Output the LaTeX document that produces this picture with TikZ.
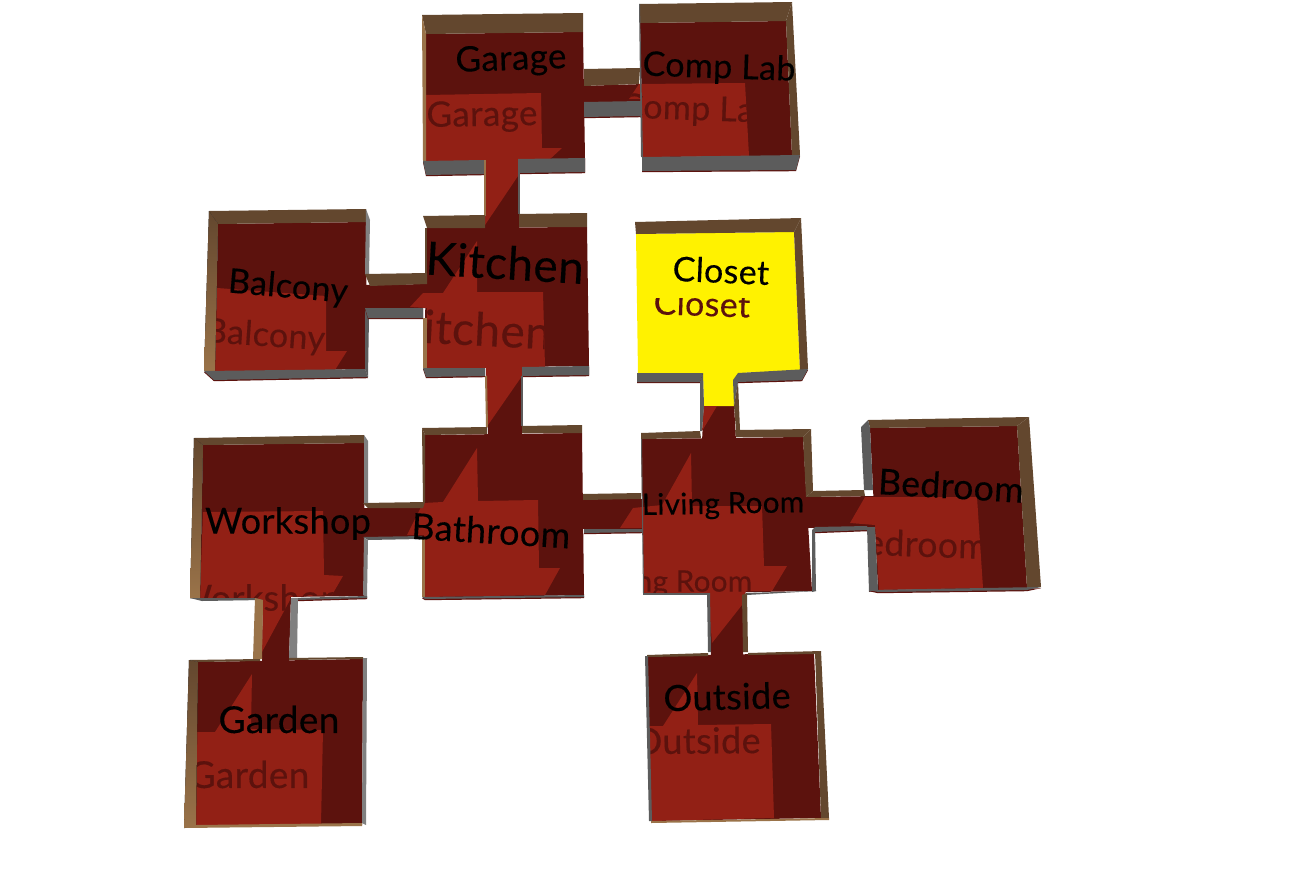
\documentclass[tikz,border=0pt]{standalone}
\usepackage{fontspec}
\setmainfont[FakeBold=0.25,LetterSpace=1]{Lato}
\usetikzlibrary{positioning}

\definecolor{floordark}{HTML}{5C120D}
\definecolor{floorlit}{HTML}{922015}
\definecolor{closetyellow}{HTML}{FFF200}
\definecolor{wallbrown}{HTML}{63472E}
\definecolor{walltan}{HTML}{9A7349}
\definecolor{wallgray}{HTML}{5C5C5C}
\definecolor{wallsteel}{HTML}{808080}

\tikzset{
	darkfloor/.style={fill=floordark},
	litfloor/.style={fill=floorlit},
	topwall/.style={fill=wallbrown},
	tanwall/.style={fill=walltan},
	fadewall/.style={top color=wallbrown, bottom color=walltan},
	botwall/.style={fill=wallgray, preaction={fill=floordark, transform canvas={yshift=-1.2pt}}},
	sidewall/.style={fill=wallsteel},
	labelsize/.style={font=\fontsize{#1}{#1}\selectfont},
	roomlabel/.style={text=black, inner sep=0pt, yshift=-1pt},
	shadowlabel/.style={text=floordark, inner sep=0pt, yshift=-1pt}
}

% lit part of a floor, with the faded label cut to it
\newcommand{\litroom}[6]{
	\fill[litfloor] #1;
	\begin{scope}
		\clip #1;
		\node[shadowlabel, labelsize=#5, rotate=#4] (#2) at #3 {#6};
	\end{scope}
}

\begin{document}
\begin{tikzpicture}[x=1pt, y=-1pt]
	\useasboundingbox (0,0) rectangle (1305,870);

	% dark floors
	\fill[darkfloor] (426,34) -- (583,32) -- (585,159) -- (425,161) -- cycle;
	\fill[darkfloor] (640,23) -- (786,21) -- (792,156) -- (643,157) -- cycle;
	\fill[darkfloor] (218,224) -- (366,222) -- (367,369) -- (215,372) -- cycle;
	\fill[darkfloor] (427,228) -- (587,227) -- (589,366) -- (424,368) -- cycle;
	\fill[darkfloor] (203,445) -- (364,443) -- (365,596) -- (200,598) -- cycle;
	\fill[darkfloor] (425,435) -- (582,433) -- (584,595) -- (423,598) -- cycle;
	\fill[darkfloor] (641,439) -- (803,437) -- (812,591) -- (644,594) -- cycle;
	\fill[darkfloor] (870,428) -- (1017,426) -- (1027,588) -- (878,590) -- cycle;
	\fill[darkfloor] (198,662) -- (363,659) -- (362,825) -- (195,826) -- cycle;
	\fill[darkfloor] (647,656) -- (814,653) -- (821,818) -- (651,821) -- cycle;
	% corridors
	\fill[darkfloor] (484,158) -- (519,158) -- (519,230) -- (485,230) -- cycle;
	\fill[darkfloor] (580,86) -- (644,84) -- (644,102) -- (580,102) -- cycle;
	\fill[darkfloor] (362,285) -- (430,284) -- (430,308) -- (362,308) -- cycle;
	\fill[darkfloor] (486,366) -- (522,366) -- (522,437) -- (488,437) -- cycle;
	\fill[darkfloor] (362,508) -- (428,508) -- (428,537) -- (362,537) -- cycle;
	\fill[darkfloor] (580,499) -- (645,499) -- (645,529) -- (580,529) -- cycle;
	\fill[darkfloor] (800,497) -- (880,496) -- (880,527) -- (800,528) -- cycle;
	\fill[darkfloor] (704,404) -- (734,404) -- (736,441) -- (702,441) -- cycle;
	\fill[darkfloor] (708,592) -- (743,592) -- (743,656) -- (711,656) -- cycle;
	\fill[darkfloor] (263,596) -- (291,596) -- (289,662) -- (262,662) -- cycle;

	% lit floors
	\litroom{(426,95) -- (541,93) -- (542,148) -- (562,148) -- (549,160) -- (518,160) -- (518,176) -- (485,225) -- (484,161) -- (426,161) -- cycle}{garageshadow}{(482,115.5)}{1}{35}{Garage}
	\litroom{(639,84) -- (745,83) -- (749,156) -- (643,157) -- (640,99) -- (629,99) -- cycle}{complabshadow}{(697,109.5)}{-2}{34}{Comp Lab}
	\litroom{(217,288) -- (326,296) -- (326,351) -- (347,351) -- (335,370) -- (215,372) -- cycle}{balconyshadow}{(265,335.5)}{-4}{34}{Balcony}
	\litroom{(477,241) -- (477,292) -- (543,292) -- (545,367) -- (522,367) -- (522,376) -- (488,425) -- (486,368) -- (427,368) -- (427,308) -- (410,307) -- (423,293) -- (443,293) -- cycle}{kitchenshadow}{(472,327.5)}{-3}{46}{Kitchen}
	\litroom{(203,512) -- (323,511) -- (324,575) -- (343,576) -- (332,595) -- (290,597) -- (290,600) -- (262,652) -- (263,600) -- (200,598) -- cycle}{workshopshadow}{(258,599.5)}{0}{36}{Workshop}
	\fill[litfloor] (477,448) -- (478,501) -- (538,500) -- (539,568) -- (560,568) -- (545,595) -- (424,597) -- (424,535) -- (407,535) -- (423,503) -- (443,502) -- cycle;
	\litroom{(691,453) -- (692,506) -- (762,506) -- (764,566) -- (787,566) -- (772,591) -- (746,591) -- (742,605) -- (712,643) -- (708,593) -- (644,594) -- (643,528) -- (620,528) -- (633,508) -- (662,505) -- cycle}{livingshadow}{(671,582.5)}{0}{29.6}{Living Room}
	\litroom{(865,497) -- (977,497) -- (983,588) -- (879,590) -- (875,525) -- (850,523) -- cycle}{bedroomshadow}{(915,542.5)}{-2}{35.6}{Bedroom}
	\litroom{(252,674) -- (251,729) -- (323,730) -- (321,824) -- (196,826) -- (197,732) -- (215,732) -- cycle}{gardenshadow}{(249,773.5)}{0}{37}{Garden}
	\litroom{(697,673) -- (698,725) -- (771,724) -- (774,818) -- (651,821) -- (648,726) -- (663,726) -- cycle}{outsideshadow}{(697,739.5)}{0.5}{36}{Outside}

	% closet
	\fill[closetyellow] (636,234) -- (794,232) -- (800,371) -- (738,373) -- (734,406) -- (704,406) -- (703,373) -- (638,374) -- cycle;
	\begin{scope}
		\clip (640,298) rectangle (790,340);
		\node[shadowlabel, labelsize=34, rotate=-2] (closetshadow) at (702,302.5) {Closet};
	\end{scope}
	\fill[litfloor] (704,406) -- (717,406) -- (702,431) -- cycle;

	% garage and comp lab walls
	\fill[topwall] (422,15) -- (583,13) -- (583,32) -- (426,34) -- cycle;
	\fill[tanwall] (422,15) -- (426,34) -- (426,161) -- (423,161) -- cycle;
	\fill[botwall] (423,161) -- (484,160) -- (484,174) -- (426,175) -- cycle;
	\fill[botwall] (518,159) -- (585,158) -- (585,172) -- (518,173) -- cycle;
	\fill[tanwall] (484,160) -- (486,160) -- (486,216) -- (484,216) -- cycle;
	\fill[wallgray] (518,173) -- (520,173) -- (520,214) -- (518,214) -- cycle;
	\fill[topwall] (584,69) -- (640,68) -- (639,84) -- (584,86) -- cycle;
	\fill[botwall] (584,102) -- (641,101) -- (641,116) -- (584,117) -- cycle;
	\fill[topwall] (639,4) -- (792,2) -- (786,21) -- (640,23) -- cycle;
	\fill[topwall] (792,2) -- (800,155) -- (792,156) -- (786,21) -- cycle;
	\fill[botwall] (642,157) -- (800,155) -- (796,170) -- (642,171) -- cycle;
	\fill[wallgray] (639,4) -- (640,4) -- (643,157) -- (641,157) -- cycle;

	% balcony and kitchen walls
	\fill[topwall] (209,211) -- (366,209) -- (366,222) -- (218,224) -- cycle;
	\fill[fadewall] (209,211) -- (218,224) -- (215,372) -- (204,371) -- cycle;
	\fill[sidewall] (366,209) -- (370,220) -- (369,274) -- (365,274) -- cycle;
	\fill[botwall] (204,371) -- (365,369) -- (368,377) -- (214,380) -- cycle;
	\fill[wallgray] (365,308) -- (369,317) -- (368,377) -- (365,369) -- cycle;
	\fill[topwall] (365,274) -- (427,273) -- (427,284) -- (370,286) -- cycle;
	\fill[botwall] (365,308) -- (423,308) -- (423,318) -- (368,318) -- cycle;
	\fill[topwall] (423,216) -- (485,215) -- (485,228) -- (427,228) -- cycle;
	\fill[topwall] (519,214) -- (587,213) -- (587,227) -- (519,227) -- cycle;
	\fill[topwall] (425,228) -- (427,228) -- (427,273) -- (425,273) -- cycle;
	\fill[tanwall] (423,318) -- (427,318) -- (427,368) -- (423,368) -- cycle;
	\fill[botwall] (423,368) -- (485,368) -- (485,376) -- (426,377) -- cycle;
	\fill[botwall] (522,367) -- (589,366) -- (589,375) -- (522,376) -- cycle;
	\fill[tanwall] (485,376) -- (487,376) -- (488,427) -- (486,427) -- cycle;
	\fill[wallgray] (521,376) -- (523,376) -- (523,426) -- (521,426) -- cycle;

	% closet walls
	\fill[topwall] (635,222) -- (801,218) -- (794,232) -- (636,234) -- cycle;
	\fill[topwall] (801,218) -- (808,369) -- (800,371) -- (794,232) -- cycle;
	\fill[botwall] (637,373) -- (703,373) -- (700,382) -- (637,382) -- cycle;
	\fill[botwall] (738,373) -- (808,369) -- (802,380) -- (738,382) -- cycle;
	\fill[wallgray] (700,382) -- (703,373) -- (704,406) -- (702,431) -- (700,431) -- cycle;
	\fill[wallgray] (733,380) -- (738,373) -- (738,382) -- (734,406) -- cycle;
	\fill[topwall] (734,406) -- (738,382) -- (740,430) -- (736,430) -- cycle;

	% bathroom and workshop walls
	\fill[topwall] (422,428) -- (487,427) -- (487,434) -- (425,435) -- cycle;
	\fill[topwall] (522,426) -- (582,425) -- (582,433) -- (522,433) -- cycle;
	\fill[topwall] (422,428) -- (425,435) -- (425,502) -- (423,502) -- cycle;
	\fill[tanwall] (422,539) -- (425,539) -- (425,597) -- (422,597) -- cycle;
	\fill[botwall] (422,597) -- (584,595) -- (584,597) -- (425,599) -- cycle;
	\fill[topwall] (363,503) -- (425,502) -- (423,508) -- (368,508) -- cycle;
	\fill[wallgray] (363,537) -- (422,536) -- (422,539) -- (368,540) -- cycle;
	\fill[topwall] (583,494) -- (641,493) -- (641,499) -- (583,500) -- cycle;
	\fill[botwall] (584,529) -- (643,529) -- (643,532) -- (584,533) -- cycle;
	\fill[topwall] (194,438) -- (364,435) -- (364,443) -- (203,445) -- cycle;
	\fill[fadewall] (194,438) -- (203,445) -- (200,598) -- (190,598) -- cycle;
	\fill[sidewall] (364,435) -- (368,441) -- (368,503) -- (364,503) -- cycle;
	\fill[sidewall] (364,538) -- (368,540) -- (367,597) -- (363,595) -- cycle;
	\fill[wallgray] (190,598) -- (255,598) -- (263,600) -- (202,601) -- cycle;
	\fill[botwall] (291,598) -- (367,596) -- (367,598) -- (297,600) -- cycle;
	\fill[tanwall] (255,598) -- (263,600) -- (262,659) -- (253,659) -- cycle;
	\fill[sidewall] (291,598) -- (298,598) -- (297,658) -- (289,658) -- cycle;

	% living room, bedroom and outside walls
	\fill[topwall] (641,433) -- (700,431) -- (701,438) -- (641,439) -- cycle;
	\fill[topwall] (735,430) -- (811,429) -- (803,437) -- (736,437) -- cycle;
	\fill[topwall] (811,429) -- (813,491) -- (806,497) -- (803,437) -- cycle;
	\fill[wallgray] (641,439) -- (642,439) -- (644,594) -- (643,594) -- cycle;
	\fill[wallgray] (643,593) -- (708,593) -- (708,595) -- (643,595) -- cycle;
	\fill[topwall] (806,497) -- (813,491) -- (864,490) -- (865,496) -- cycle;
	\fill[botwall] (815,527) -- (867,526) -- (868,530) -- (815,532) -- cycle;
	\fill[wallgray] (812,530) -- (815,527) -- (816,591) -- (812,592) -- cycle;
	\fill[wallgray] (745,593) -- (812,591) -- (816,591) -- (747,595) -- cycle;
	\fill[wallgray] (707,593) -- (710,593) -- (711,652) -- (708,652) -- cycle;
	\fill[topwall] (742,595) -- (747,593) -- (748,652) -- (743,652) -- cycle;
	\fill[topwall] (868,420) -- (1029,417) -- (1017,426) -- (870,428) -- cycle;
	\fill[topwall] (1029,417) -- (1041,587) -- (1027,588) -- (1017,426) -- cycle;
	\fill[wallgray] (868,420) -- (861,427) -- (864,490) -- (873,490) -- (870,428) -- cycle;
	\fill[wallgray] (867,527) -- (875,527) -- (878,590) -- (869,592) -- cycle;
	\fill[botwall] (869,590) -- (1041,587) -- (1027,590) -- (878,592) -- cycle;
	\fill[topwall] (647,655) -- (708,653) -- (708,656) -- (647,657) -- cycle;
	\fill[topwall] (748,653) -- (821,651) -- (814,654) -- (748,655) -- cycle;
	\fill[topwall] (815,652) -- (821,651) -- (829,818) -- (821,818) -- cycle;
	\fill[wallgray] (645,656) -- (648,656) -- (652,821) -- (649,821) -- cycle;
	\fill[tanwall] (651,821) -- (829,818) -- (829,820) -- (651,823) -- cycle;

	% garden walls
	\fill[topwall] (189,660) -- (260,659) -- (260,661) -- (198,662) -- cycle;
	\fill[topwall] (289,658) -- (363,657) -- (363,659) -- (289,660) -- cycle;
	\fill[fadewall] (189,660) -- (198,662) -- (196,826) -- (184,828) -- cycle;
	\fill[sidewall] (363,658) -- (367,658) -- (366,825) -- (362,823) -- cycle;
	\fill[tanwall] (184,828) -- (196,825) -- (362,823) -- (362,826) -- cycle;

	% room names
	\node[roomlabel, labelsize=35, rotate=2] (garage) at (511,59.5) {Garage};
	\node[roomlabel, labelsize=34, rotate=-2] (complab) at (719,67.5) {Comp Lab};
	\node[roomlabel, labelsize=46, rotate=-3.5] (kitchen) at (505,261.5) {Kitchen};
	\node[roomlabel, labelsize=34, rotate=-5] (balcony) at (288,287) {Balcony};
	\node[roomlabel, labelsize=34, rotate=-2.5] (closet) at (721,269.5) {Closet};
	\node[roomlabel, labelsize=36, rotate=0] (workshop) at (288,522.5) {Workshop};
	\node[roomlabel, labelsize=36, rotate=-3.5] (bathroom) at (491,529.5) {Bathroom};
	\node[roomlabel, labelsize=29.6, rotate=1] (living) at (723,504.5) {Living Room};
	\node[roomlabel, labelsize=35.6, rotate=-3.5] (bedroom) at (951,484.5) {Bedroom};
	\node[roomlabel, labelsize=37, rotate=0] (garden) at (279,718.5) {Garden};
	\node[roomlabel, labelsize=36, rotate=1.5] (outside) at (727,695.5) {Outside};
\end{tikzpicture}
\end{document}
